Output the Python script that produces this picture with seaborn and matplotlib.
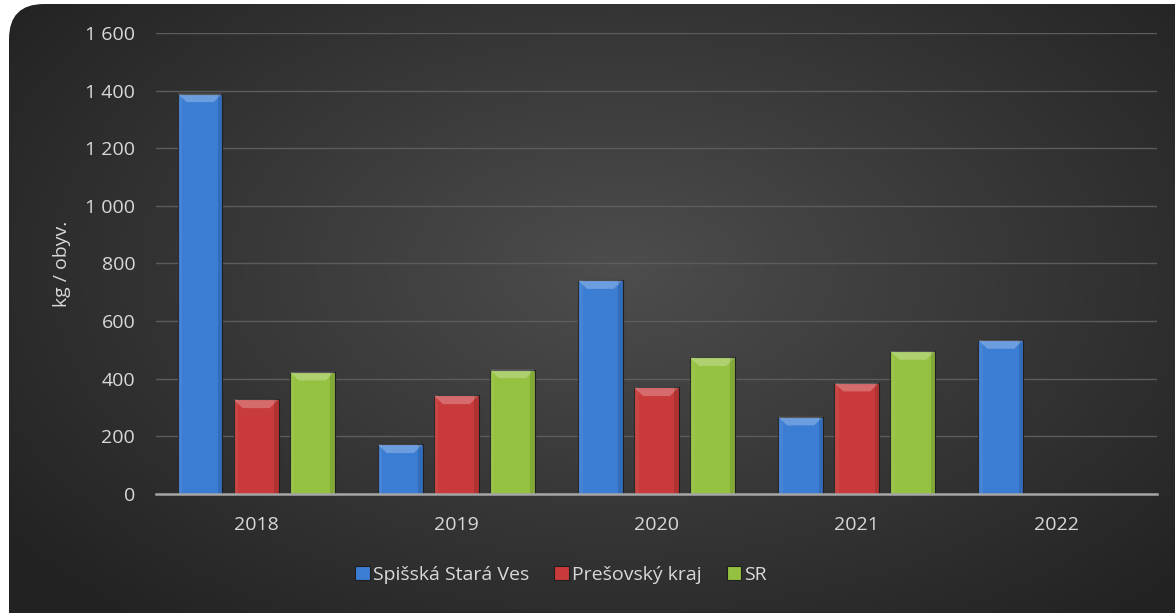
import numpy as np
import pandas as pd
import matplotlib
matplotlib.use("Agg")
import matplotlib.pyplot as plt
from matplotlib.patches import FancyBboxPatch
from matplotlib.ticker import FuncFormatter
import seaborn as sns

# Data (kg / obyv.)
years = ["2018", "2019", "2020", "2021", "2022"]
spisska_stara_ves = [1390, 172, 742, 268, 534]
presovsky_kraj = [328, 342, 370, 386, np.nan]
sr = [424, 432, 474, 496, np.nan]
series_names = ["Spišská Stará Ves", "Prešovský kraj", "SR"]
y_ticks = [0, 200, 400, 600, 800, 1000, 1200, 1400, 1600]

df = pd.DataFrame({
    "rok": years * 3,
    "hodnota": spisska_stara_ves + presovsky_kraj + sr,
    "seria": [series_names[0]] * 5 + [series_names[1]] * 5 + [series_names[2]] * 5,
})

palette = {
    "Spišská Stará Ves": "#3b7dd3",
    "Prešovský kraj": "#c93a3a",
    "SR": "#95c140",
}

sns.set_theme(style="white")
plt.rcParams["font.family"] = ["Open Sans", "DejaVu Sans"]
text_col = "#d9d9d9"
fs = 14

fig = plt.figure(figsize=(11.75, 6.13), dpi=100)
fig.patch.set_facecolor("white")

# dark rounded panel with radial gradient
bg = fig.add_axes([0, 0, 1, 1], zorder=-1)
bg.set_xlim(0, 1175)
bg.set_ylim(613, 0)
bg.axis("off")
yy, xx = np.mgrid[0:613, 0:1175]
dist = np.sqrt(((xx - 620) / 700) ** 2 + ((yy - 270) / 420) ** 2)
shade = np.clip(0x4d / 255 - dist * (0x4d - 0x24) / 255 / 1.05, 0x22 / 255, 1)
img = bg.imshow(np.dstack([shade] * 3), extent=(0, 1175, 613, 0), aspect="auto")
panel = FancyBboxPatch((9, 4), 1260, 700, boxstyle="round,pad=0,rounding_size=35",
                       transform=bg.transData, facecolor="none", edgecolor="none")
bg.add_patch(panel)
img.set_clip_path(panel)

ax = fig.add_axes([156 / 1175, 1 - 494 / 613, 1001 / 1175, 461 / 613])
ax.set_facecolor("none")
sns.barplot(data=df, x="rok", y="hodnota", hue="seria", hue_order=series_names,
            palette=palette, width=0.84, gap=0.2, saturation=1, ax=ax,
            edgecolor="#1f1f1f", linewidth=0.8, zorder=3)

# simple bevel highlight on top of each bar
for bar in ax.patches:
    h = bar.get_height()
    if h is None or np.isnan(h) or h <= 0:
        continue
    x0, w = bar.get_x(), bar.get_width()
    ax.fill([x0, x0 + w, x0 + w * 0.8, x0 + w * 0.2], [h, h, h - 30, h - 30],
            color="white", alpha=0.25, zorder=4, linewidth=0)
    ax.fill([x0, x0 + w * 0.1, x0 + w * 0.1, x0], [0, 0, h, h],
            color="white", alpha=0.06, zorder=4, linewidth=0)
    ax.fill([x0 + w * 0.9, x0 + w, x0 + w, x0 + w * 0.9], [0, 0, h, h],
            color="black", alpha=0.12, zorder=4, linewidth=0)

ax.set_xlim(-0.5, 4.5)
ax.set_ylim(0, 1600)
ax.set_yticks(y_ticks)
ax.yaxis.set_major_formatter(FuncFormatter(lambda v, p: f"{int(v):,}".replace(",", " ")))
ax.grid(axis="y", color="#5c5c5c", linewidth=1, zorder=0)
ax.grid(axis="x", visible=False)
for s in ["top", "right", "left"]:
    ax.spines[s].set_visible(False)
ax.spines["bottom"].set_color("#a6a6a6")
ax.spines["bottom"].set_linewidth(1.8)
ax.spines["bottom"].set_zorder(5)
ax.tick_params(axis="y", length=0, pad=15, labelsize=fs, labelcolor=text_col)
ax.tick_params(axis="x", length=0, pad=16, labelsize=fs, labelcolor=text_col)

ax.set_xlabel("")
ax.set_ylabel("kg / obyv.", color=text_col, fontsize=fs)
ax.yaxis.set_label_coords(-0.085, 0.5)

handles, labels = ax.get_legend_handles_labels()
ax.legend(handles, labels, loc="center", bbox_to_anchor=(561 / 1175, 1 - 575 / 613),
          bbox_transform=fig.transFigure, ncol=3, frameon=False, fontsize=fs,
          labelcolor=text_col, handlelength=0.75, handleheight=0.75,
          handletextpad=0.15, columnspacing=1.3)

fig.savefig("out.png", dpi=100, facecolor=fig.get_facecolor())
